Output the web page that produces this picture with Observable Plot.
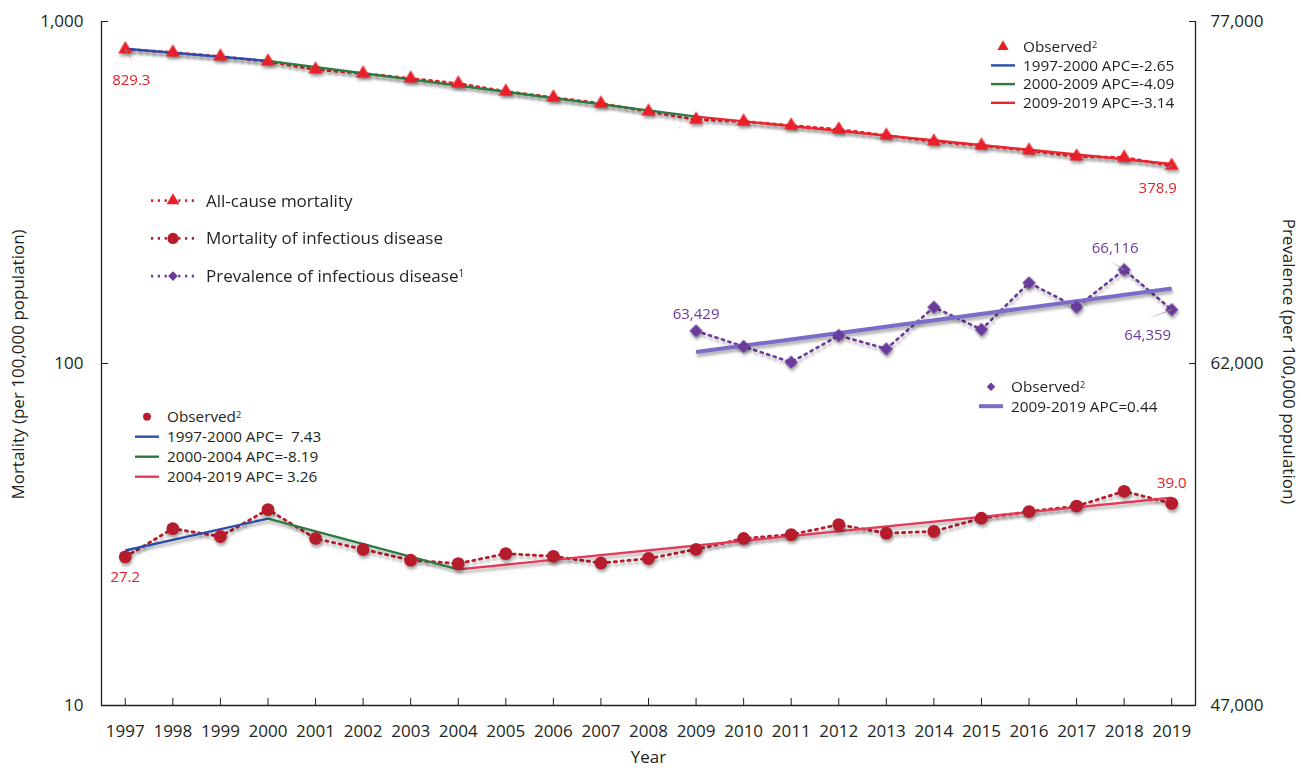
<!DOCTYPE html>
<html>
<head>
<meta charset="utf-8">
<script src="https://cdn.jsdelivr.net/npm/d3@7"></script>
<script src="https://cdn.jsdelivr.net/npm/@observablehq/plot@0.6"></script>
<style>
  body { margin: 0; background: #fff; }
  #chart { position: relative; width: 1301px; height: 772px; }
  #chart svg text { font-family: "Open Sans", sans-serif; }
</style>
</head>
<body>
<div id="chart"></div>
<script>
// ---- Data -------------------------------------------------------------
const years = [1997, 1998, 1999, 2000, 2001, 2002, 2003, 2004, 2005, 2006, 2007, 2008,
               2009, 2010, 2011, 2012, 2013, 2014, 2015, 2016, 2017, 2018, 2019];

// All-cause mortality (per 100,000)
const allCause = [829.3, 811.8, 790.3, 763.9, 723.9, 704.7, 681.3, 658.8, 624.2, 599.6, 575.8, 545.6,
                  516.9, 510.1, 496.6, 483.4, 464.2, 445.9, 434.1, 419.6, 403.0, 400.2, 378.9];

// Mortality of infectious disease (per 100,000)
const infectious = [27.2, 32.9, 31.2, 37.4, 30.8, 28.6, 26.6, 26.0, 27.8, 27.3, 26.1, 26.9,
                    28.6, 30.8, 31.6, 33.8, 31.9, 32.3, 35.3, 36.9, 38.3, 42.3, 39.0];

// Prevalence of infectious disease (per 100,000)
const prevYears = [2009, 2010, 2011, 2012, 2013, 2014, 2015, 2016, 2017, 2018, 2019];
const prevalence = [63429, 62746, 62057, 63228, 62645, 64469, 63491, 65539, 64469, 66116, 64359];

// Joinpoint model: fitted values at each joinpoint
const allCauseJoinYears = [1997, 2000, 2009, 2019];
const allCauseJoinFit = [832, 767, 527, 383];
const allCauseLegend = ["1997-2000 APC=-2.65", "2000-2009 APC=-4.09", "2009-2019 APC=-3.14"];

const infJoinYears = [1997, 2000, 2004, 2019];
const infJoinFit = [28.4, 35.2, 25.0, 40.5];
const infLegend = ["1997-2000 APC=  7.43", "2000-2004 APC=-8.19", "2004-2019 APC= 3.26"];

const prevJoinYears = [2009, 2019];
const prevJoinFit = [62500, 65290];
const prevLegend = ["2009-2019 APC=0.44"];

// Axis ticks
const leftTicks = [10, 100, 1000];
const rightTicks = [47000, 62000, 77000];
const rightDomain = [47000, 77000];

// ---- Colours ----------------------------------------------------------
const RED = "#e8202a", DARKRED = "#b71c2c", PURPLE = "#6a3b9c";
const BLUE = "#2b4fa8", GREEN = "#2d7a40", LINE_RED = "#e8262e", LINE_PINK = "#e43a58";
const LAVENDER = "#7b6cc8", INK = "#231f20";
const allCauseSegColors = [BLUE, GREEN, LINE_RED];
const infSegColors = [BLUE, GREEN, LINE_PINK];

// Prevalence lives on the right (linear) axis; map it onto the shared log y scale
const [r0, r1] = rightDomain;
const toLeft = v => 10 ** (1 + 2 * (v - r0) / (r1 - r0));
const fromLeft = y => r0 + (Math.log10(y) - 1) / 2 * (r1 - r0);

const allCauseData = years.map((year, i) => ({year, value: allCause[i]}));
const infData = years.map((year, i) => ({year, value: infectious[i]}));
const prevData = prevYears.map((year, i) => ({year, value: prevalence[i], y: toLeft(prevalence[i])}));

function segments(ys, vs, colors, map = v => v) {
  return colors.map((color, i) => ({
    x1: ys[i], x2: ys[i + 1], y1: map(vs[i]), y2: map(vs[i + 1]), color
  }));
}
const allCauseSegs = segments(allCauseJoinYears, allCauseJoinFit, allCauseSegColors);
const infSegs = segments(infJoinYears, infJoinFit, infSegColors);
const prevSegs = segments(prevJoinYears, prevJoinFit, [LAVENDER], toLeft);

const fmt1 = d3.format(".1f"), fmtInt = d3.format(",");
const first = a => [a[0]], last = a => [a[a.length - 1]];
const DOTS = "2.2,4.6";

// Thin grey leader lines from a point to its value label
const leader = (data, y, angle, len) => Plot.vector(data, {
  x: "year", y, rotate: angle, length: len, anchor: "start", shape: "spike",
  r: 0.55, fill: "#8c8c8c", stroke: "none"
});

const chart = Plot.plot({
  width: 1301,
  height: 772,
  marginLeft: 101,
  marginRight: 106,
  marginTop: 21,
  marginBottom: 67,
  style: {fontFamily: "'Open Sans', sans-serif", fontSize: "17px", color: INK, background: "#fff"},
  x: {domain: [1996.5, 2019.5]},
  y: {type: "log", domain: [10, 1000]},
  marks: [
    // frame lines: left, right, bottom
    Plot.ruleX([1996.5, 2019.5], {stroke: INK, strokeWidth: 1.3}),
    Plot.ruleY([10], {stroke: INK, strokeWidth: 1.3}),

    // axes with inward ticks
    Plot.axisY({ticks: leftTicks, anchor: "left", tickFormat: d3.format(","), tickSize: -7, tickPadding: 25,
                label: null, color: INK, fontSize: 17}),
    Plot.axisY({ticks: rightTicks.map(toLeft), anchor: "right", tickFormat: d => fmtInt(Math.round(fromLeft(d))),
                tickSize: -7, tickPadding: 22, label: null, color: INK, fontSize: 17}),
    Plot.axisX({ticks: years, tickFormat: d => String(d), tickSize: -7, tickPadding: 26,
                label: null, color: INK, fontSize: 17}),

    // axis titles
    Plot.text(["Mortality (per 100,000 population)"], {frameAnchor: "left", textAnchor: "middle", rotate: -90,
                dx: -83, dy: 1, fontSize: 17, fill: INK}),
    Plot.text(["Prevalence (per 100,000 population)"], {frameAnchor: "right", textAnchor: "middle", rotate: 90,
                dx: 93, dy: -2, fontSize: 17, fill: INK}),
    Plot.text(["Year"], {frameAnchor: "bottom", dy: 57, fontSize: 17, fill: INK}),

    // observed series, dotted
    Plot.line(allCauseData, {x: "year", y: "value", stroke: RED, strokeWidth: 2.8, strokeDasharray: DOTS}),
    Plot.line(infData, {x: "year", y: "value", stroke: DARKRED, strokeWidth: 2.8, strokeDasharray: DOTS}),
    Plot.line(prevData, {x: "year", y: "y", stroke: PURPLE, strokeWidth: 2.6, strokeDasharray: DOTS}),

    // joinpoint fitted segments
    Plot.link(allCauseSegs, {x1: "x1", y1: "y1", x2: "x2", y2: "y2", stroke: "color", strokeWidth: 2.4}),
    Plot.link(infSegs, {x1: "x1", y1: "y1", x2: "x2", y2: "y2", stroke: "color", strokeWidth: 2.4}),
    Plot.link(prevSegs, {x1: "x1", y1: "y1", x2: "x2", y2: "y2", stroke: "color", strokeWidth: 4}),

    // observed markers
    Plot.dot(allCauseData, {x: "year", y: "value", symbol: "triangle", r: 5.3, fill: RED, stroke: "none"}),
    Plot.dot(infData, {x: "year", y: "value", r: 6.4, fill: DARKRED, stroke: "none"}),
    Plot.dot(prevData, {x: "year", y: "y", symbol: "diamond2", r: 6, fill: PURPLE, stroke: "none"}),

    // leader lines
    leader(first(allCauseData), "value", 150, 15),
    leader(last(allCauseData), "value", 244, 14),
    leader(prevData.filter(d => d.value === d3.max(prevalence)), "y", 301, 15),
    leader(last(prevData), "y", 250, 26),

    // value labels
    Plot.text(first(allCauseData), {x: "year", y: "value", text: d => fmt1(d.value), fill: RED, fontSize: 15, dx: 6, dy: 31}),
    Plot.text(last(allCauseData), {x: "year", y: "value", text: d => fmt1(d.value), fill: RED, fontSize: 15, dx: -14, dy: 23}),
    Plot.text(first(infData), {x: "year", y: "value", text: d => fmt1(d.value), fill: RED, fontSize: 15, dx: 0, dy: 20}),
    Plot.text(last(infData), {x: "year", y: "value", text: d => fmt1(d.value), fill: RED, fontSize: 15, dx: 0, dy: -20}),
    Plot.text(first(prevData), {x: "year", y: "y", text: d => fmtInt(d.value), fill: PURPLE, fontSize: 15, dx: 0, dy: -17}),
    Plot.text(prevData.filter(d => d.value === d3.max(prevalence)), {x: "year", y: "y", text: d => fmtInt(d.value), fill: PURPLE, fontSize: 15, dx: -9, dy: -21}),
    Plot.text(last(prevData), {x: "year", y: "y", text: d => fmtInt(d.value), fill: PURPLE, fontSize: 15, dx: -24, dy: 25})
  ]
});

document.getElementById("chart").append(chart);

// Soft drop shadow under the plotted series
const svg = d3.select(chart);
svg.selectAll('g[aria-label="line"], g[aria-label="link"], g[aria-label="dot"]')
  .style("filter", "drop-shadow(1px 3px 1.4px rgba(0,0,0,0.32))");

// ---- Legends ----------------------------------------------------------
const symbolPath = (type, size) => d3.symbol().type(type).size(size)();

function addText(g, x, y, label, sup, size) {
  const t = g.append("text").attr("x", x).attr("y", y).attr("dy", "0.35em")
    .attr("text-anchor", "start").attr("fill", INK)
    .style("font-size", size + "px").style("white-space", "pre").text(label);
  if (sup) t.append("tspan").attr("dy", "-0.45em").style("font-size", (size * 0.6) + "px").text(sup);
}

// Key of series, each with a dotted line and its marker
const seriesKey = [
  {label: "All-cause mortality", sup: null, color: RED, symbol: d3.symbolTriangle, size: 70},
  {label: "Mortality of infectious disease", sup: null, color: DARKRED, symbol: d3.symbolCircle, size: 100},
  {label: "Prevalence of infectious disease", sup: "1", color: PURPLE, symbol: d3.symbolDiamond2, size: 60}
];
const gKey = svg.append("g");
seriesKey.forEach((d, i) => {
  const y = 200.7 + i * 37.7;
  gKey.append("line").attr("x1", 151).attr("x2", 196).attr("y1", y).attr("y2", y)
    .attr("stroke", d.color).attr("stroke-width", 2.8).attr("stroke-dasharray", DOTS);
  gKey.append("path").attr("d", symbolPath(d.symbol, d.size))
    .attr("transform", `translate(173,${y})`).attr("fill", d.color);
  addText(gKey, 206, y, d.label, d.sup, 17);
});

// Joinpoint legend: observed marker followed by one row per fitted segment
function fitLegend({x, y0, step, symbol, symSize, symColor, labels, colors, lineWidth}) {
  const g = svg.append("g");
  g.append("path").attr("d", symbolPath(symbol, symSize))
    .attr("transform", `translate(${x + 12},${y0})`).attr("fill", symColor);
  addText(g, x + 32, y0, "Observed", "2", 15.3);
  labels.forEach((label, i) => {
    const y = y0 + step * (i + 1);
    g.append("line").attr("x1", x).attr("x2", x + 24).attr("y1", y).attr("y2", y)
      .attr("stroke", colors[i]).attr("stroke-width", lineWidth);
    addText(g, x + 32, y, label, null, 15.3);
  });
}

fitLegend({x: 991, y0: 46.7, step: 18.7, symbol: d3.symbolTriangle, symSize: 55, symColor: RED,
           labels: allCauseLegend, colors: allCauseSegColors, lineWidth: 2.4});
fitLegend({x: 135, y0: 416.7, step: 20, symbol: d3.symbolCircle, symSize: 48, symColor: DARKRED,
           labels: infLegend, colors: infSegColors, lineWidth: 2.4});
fitLegend({x: 979, y0: 386.7, step: 19.5, symbol: d3.symbolDiamond2, symSize: 45, symColor: PURPLE,
           labels: prevLegend, colors: [LAVENDER], lineWidth: 4});
</script>
</body>
</html>
